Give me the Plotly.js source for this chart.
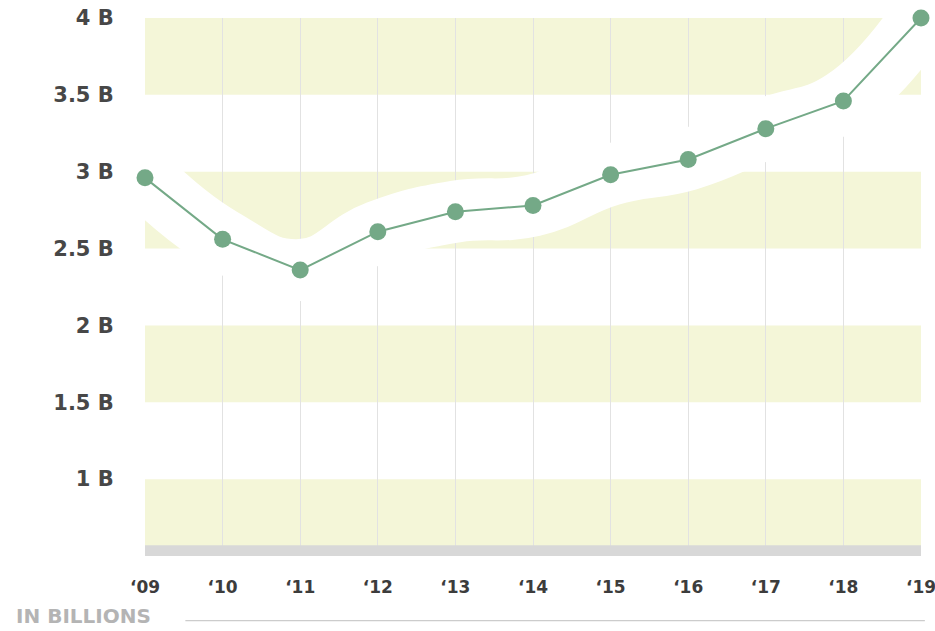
<!DOCTYPE html>
<html>
<head>
<meta charset="utf-8">
<script src="https://cdn.plot.ly/plotly-3.0.1.min.js"></script>
<style>html,body{margin:0;padding:0;background:#fff;}#chart{width:935px;height:631px;}</style>
</head>
<body>
<div id="chart"></div>
<script>
const years = [2009, 2010, 2011, 2012, 2013, 2014, 2015, 2016, 2017, 2018, 2019];
const yearLabels = ["\u201809", "\u201810", "\u201811", "\u201812", "\u201813", "\u201814", "\u201815", "\u201816", "\u201817", "\u201818", "\u201819"];
const values = [2.96, 2.56, 2.36, 2.61, 2.74, 2.78, 2.98, 3.08, 3.28, 3.46, 4.0];
const yTickVals = [1, 1.5, 2, 2.5, 3, 3.5, 4];
const yTickText = ["1 B", "1.5 B", "2 B", "2.5 B", "3 B", "3.5 B", "4 B"];
const bandStarts = [0.5, 1.5, 2.5, 3.5];
const axisNote = "IN BILLIONS";

const yellow = "#f4f6d8";
const green = "#74a987";

const shapes = bandStarts.map(b => ({
  type: "rect", xref: "paper", yref: "y", x0: 0, x1: 1, y0: b, y1: b + 0.5,
  fillcolor: yellow, line: {width: 0}, layer: "below"
}));
shapes.push({
  type: "rect", xref: "paper", yref: "paper", x0: 0, x1: 1, y0: 0, y1: 0.02,
  fillcolor: "#d8d8d8", line: {width: 0}, layer: "above"
});
shapes.push({
  type: "line", xref: "paper", yref: "paper", x0: 0.052, x1: 1.005, y0: -0.12, y1: -0.12,
  line: {color: "#cccccc", width: 1.2}
});

const traces = [
  {
    x: years, y: values, type: "scatter", mode: "lines",
    line: {color: "#ffffff", width: 62, shape: "spline", smoothing: 1.3},
    hoverinfo: "skip", showlegend: false
  },
  {
    x: years, y: values, type: "scatter", mode: "lines+markers",
    line: {color: green, width: 2},
    marker: {color: green, size: 17},
    cliponaxis: false, showlegend: false
  }
];

const layout = {
  width: 935, height: 631,
  margin: {l: 145, r: 14, t: 18, b: 75},
  paper_bgcolor: "#ffffff", plot_bgcolor: "#ffffff",
  showlegend: false,
  xaxis: {
    range: [2009, 2019], tickvals: years, ticktext: yearLabels,
    showgrid: true, gridcolor: "#e2e2e2", gridwidth: 1,
    zeroline: false, showline: false,
    ticks: "outside", ticklen: 16, tickcolor: "rgba(0,0,0,0)",
    ticklabeloverflow: "allow",
    tickfont: {family: "DejaVu Sans", size: 17, color: "#3c3c3c", weight: "bold"}
  },
  yaxis: {
    range: [0.5, 4], tickvals: yTickVals, ticktext: yTickText,
    showgrid: false, zeroline: false, showline: false,
    ticks: "outside", ticklen: 26, tickcolor: "rgba(0,0,0,0)",
    tickfont: {family: "DejaVu Sans", size: 21, color: "#474747", weight: "bold"}
  },
  shapes: shapes,
  annotations: [{
    text: axisNote, xref: "paper", yref: "paper", x: -0.168, y: -0.112,
    xanchor: "left", yanchor: "middle", showarrow: false, borderpad: 0,
    font: {family: "DejaVu Sans", size: 20, color: "#b4b4b4", weight: "bold"}
  }]
};

Plotly.newPlot("chart", traces, layout, {displayModeBar: false, staticPlot: true});
</script>
</body>
</html>
